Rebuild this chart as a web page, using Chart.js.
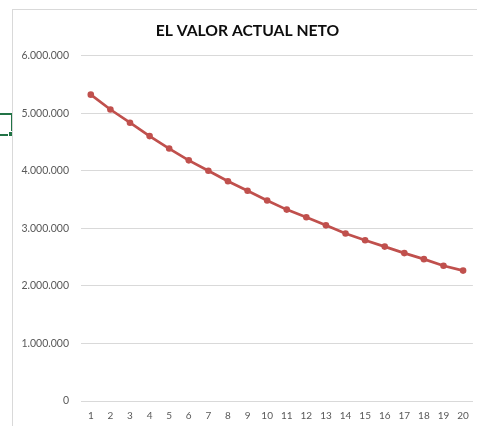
<!DOCTYPE html>
<html>
<head>
<meta charset="utf-8">
<script src="https://cdn.jsdelivr.net/npm/chart.js@4/dist/chart.umd.min.js"></script>
<style>
  html, body { margin: 0; padding: 0; background: #fff; }
  body { width: 477px; height: 426px; position: relative; overflow: hidden; }
  #frame {
    position: absolute; left: 12px; top: 9px; width: 470px; height: 425px;
    border-left: 1px solid #d9d9d9; border-top: 1px solid #d9d9d9;
  }
  #wrap { position: absolute; left: 0; top: 0; width: 465px; height: 421px; }
  /* excel cell cursor peeking in at the left */
  #cell {
    position: absolute; left: -2px; top: 113px; width: 11px; height: 19px;
    border: 2px solid #217346;
  }
  #handle {
    position: absolute; left: 8px; top: 131px; width: 4px; height: 4px;
    background: #217346; border: 1px solid #fff;
  }
</style>
</head>
<body>
<div id="cell"></div>
<div id="handle"></div>
<div id="frame">
  <div id="wrap"><canvas id="van"></canvas></div>
</div>
<script>
var periods = ['1','2','3','4','5','6','7','8','9','10','11','12','13','14','15','16','17','18','19','20'];
var vanValues = [5325000, 5067000, 4838000, 4605000, 4388000, 4183000, 4002000, 3819000, 3656000, 3485000,
                 3327000, 3193000, 3053000, 2912000, 2794000, 2684000, 2571000, 2466000, 2350000, 2267000];
var yTicks = [0, 1000000, 2000000, 3000000, 4000000, 5000000, 6000000];

var lineColor = '#c0504d';

function fmt(v) {
  // dots as thousands separators, like the spreadsheet
  return String(v).replace(/\B(?=(\d{3})+(?!\d))/g, '.');
}

var ctx = document.getElementById('van').getContext('2d');
var chart = new Chart(ctx, {
  type: 'line',
  data: {
    labels: periods,
    datasets: [{
      label: 'VAN',
      data: vanValues,
      borderColor: lineColor,
      backgroundColor: lineColor,
      borderWidth: 2.7,
      pointRadius: 3.3,
      pointBorderWidth: 0,
      pointBackgroundColor: lineColor,
      tension: 0
    }]
  },
  options: {
    responsive: true,
    maintainAspectRatio: false,
    animation: false,
    // a little left padding nudges the title right; y axis narrowed to match
    layout: { padding: { left: 7, right: 3, top: 0, bottom: 0 } },
    plugins: {
      legend: { display: false },
      tooltip: { enabled: false },
      title: {
        display: true,
        text: 'EL VALOR ACTUAL NETO',
        color: '#0d0d0d',
        font: { family: 'Lato', size: 15.7, weight: 'bold' },
        padding: { top: 12, bottom: 15 }
      }
    },
    scales: {
      x: {
        offset: true,
        grid: { display: false, drawTicks: false },
        border: { display: true, color: '#d9d9d9', width: 1 },
        ticks: {
          color: '#595959',
          font: { family: 'Lato', size: 10 },
          padding: 9,
          maxRotation: 0,
          autoSkip: false
        }
      },
      y: {
        min: 0,
        max: 6000000,
        afterBuildTicks: function(scale) {
          scale.ticks = yTicks.map(function(v) { return { value: v }; });
        },
        afterFit: function(scale) { scale.width = 61; },
        grid: { color: '#d9d9d9', lineWidth: 1, drawTicks: false },
        border: { display: false },
        ticks: {
          color: '#595959',
          font: { family: 'Lato', size: 10.5 },
          padding: 12,
          callback: function(v) { return fmt(v); }
        }
      }
    }
  }
});
</script>
</body>
</html>
